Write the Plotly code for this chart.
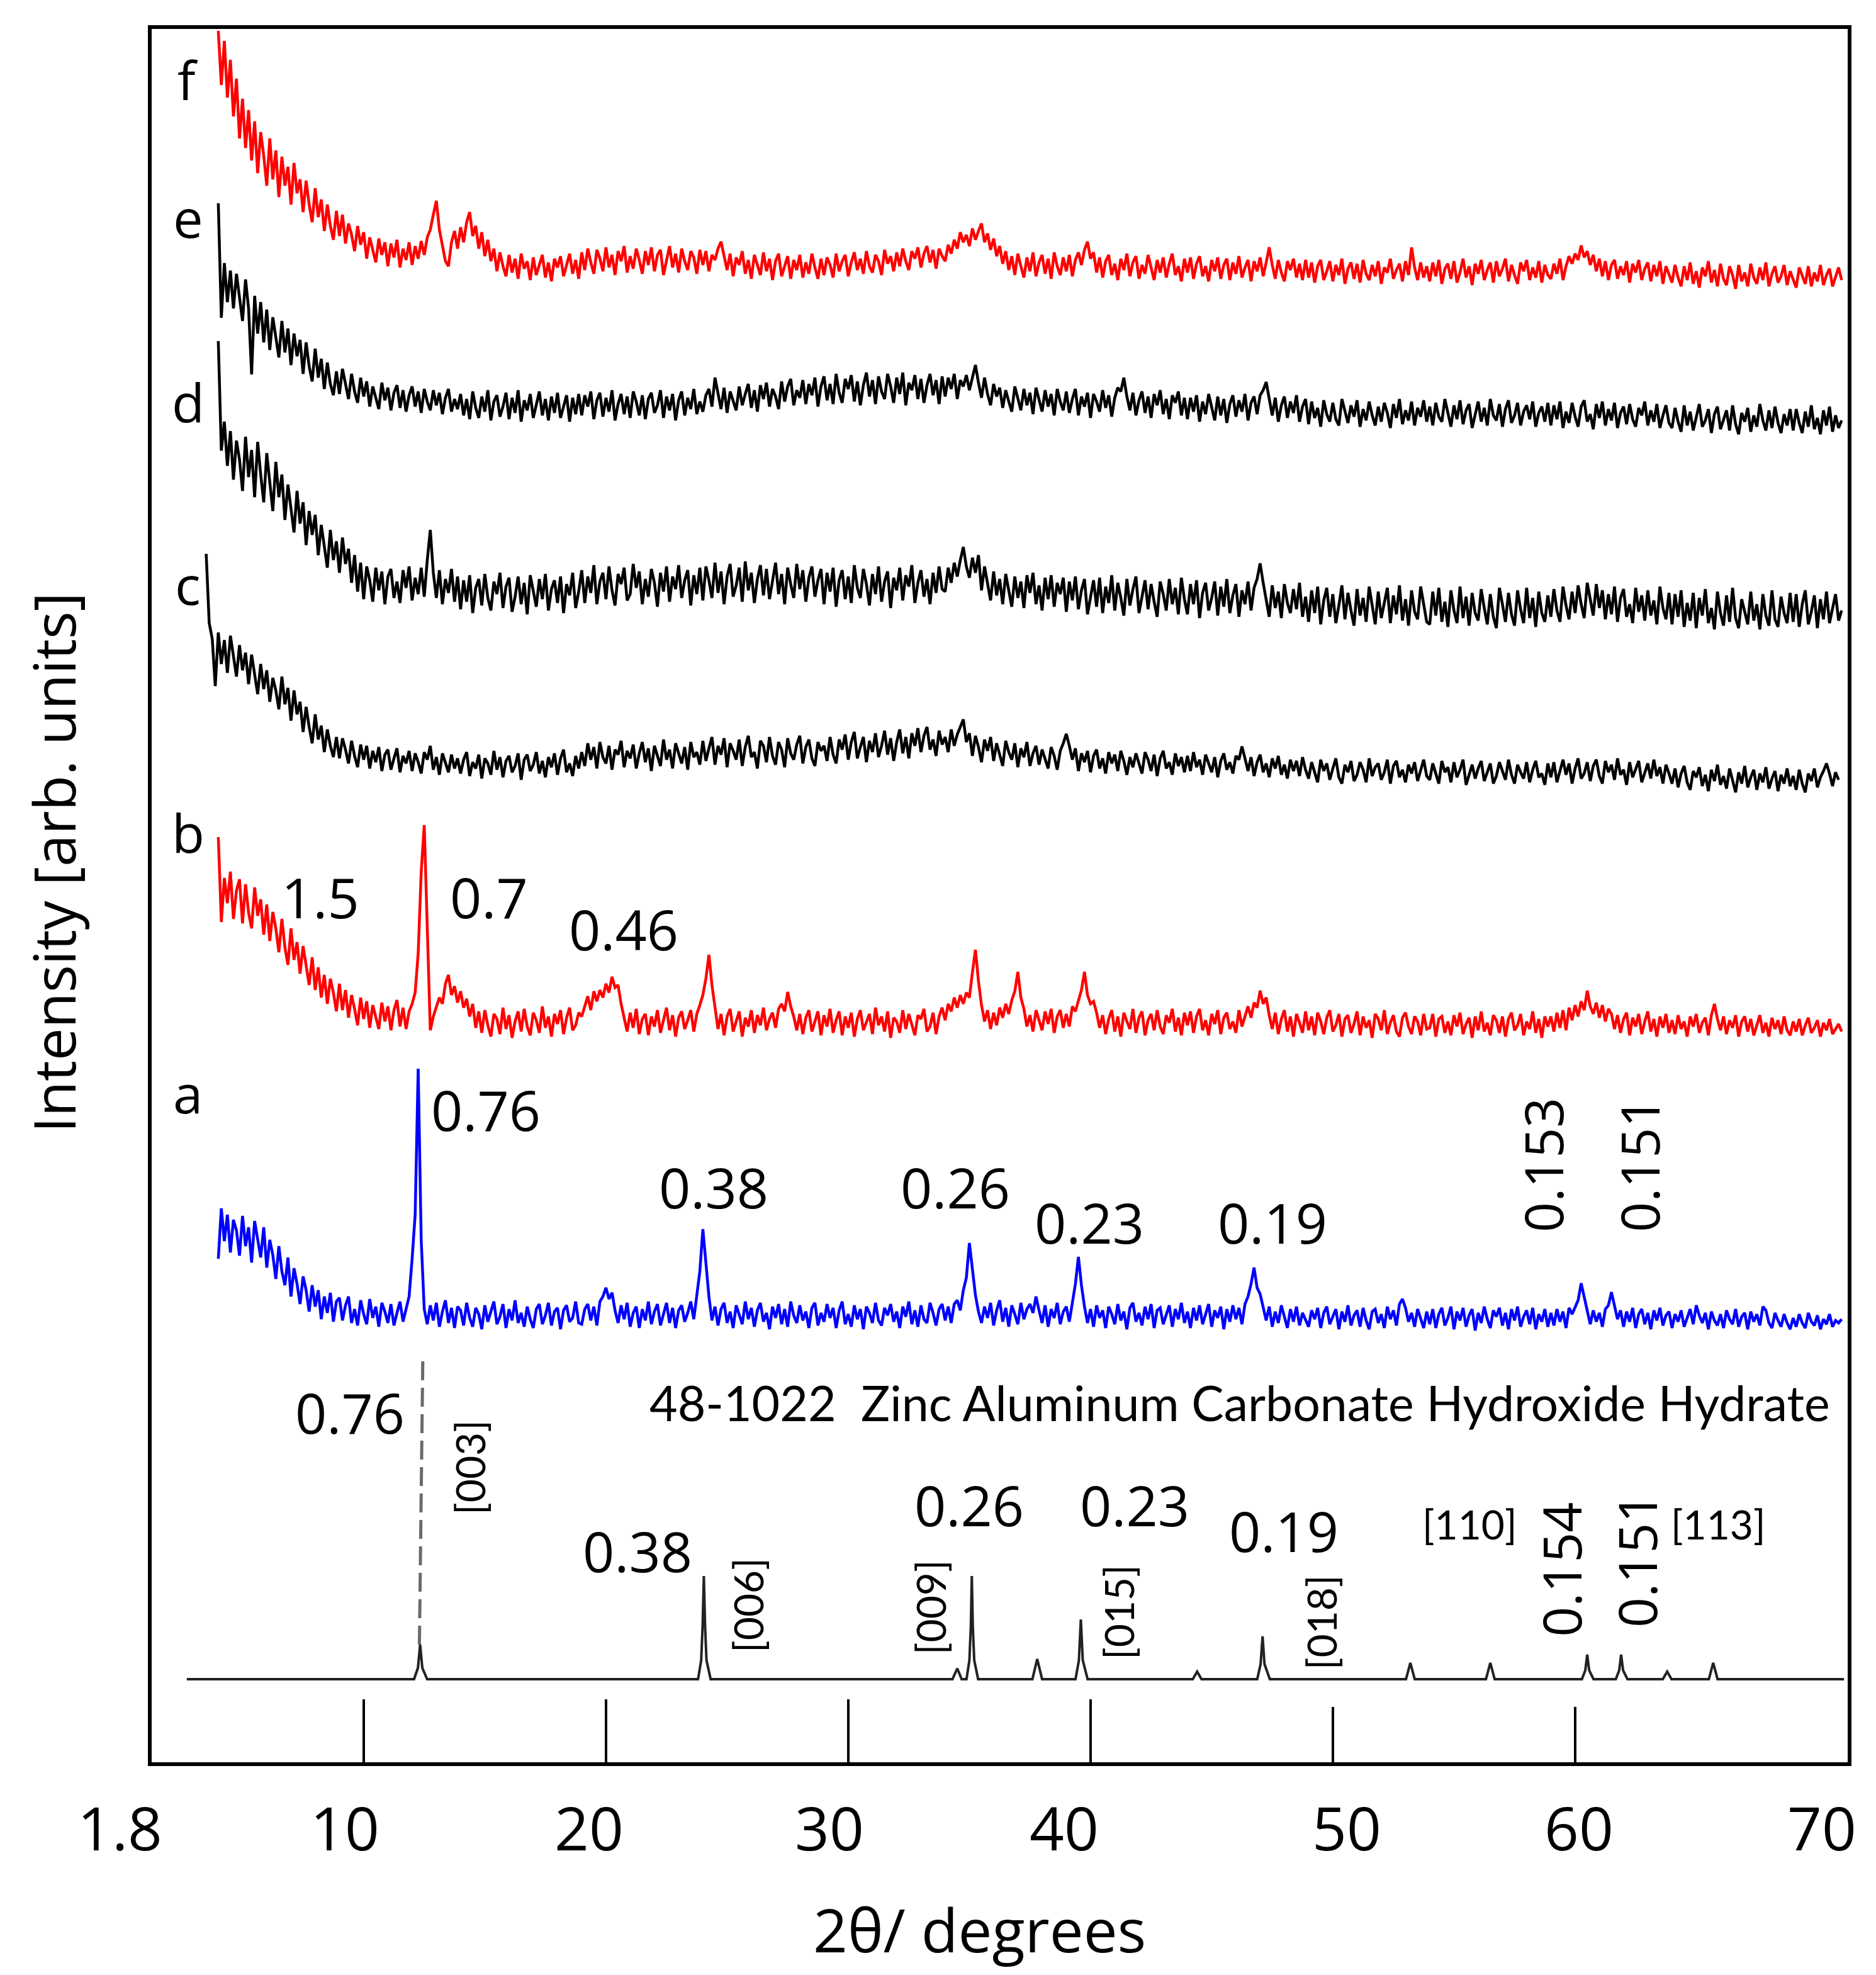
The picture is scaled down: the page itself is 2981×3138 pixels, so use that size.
import plotly.graph_objects as go

# ---------------- data ----------------
# Each sample series is stored as rows of 5 degrees (40 samples, 0.125 deg apart).
STEP = 0.125
ROW_SPAN = 5.0

a_start = 4.0
a_rows = [
    [90,170,118,160,100,152,135,95, 158,110,140,84,150,118,92,140, 76,120,96,58,110,70,48,92, 30,75,50,18,62,40,6,48, 14,40,-6,30,4,36,-10,22],
    [28,-8,16,30,-12,10,-16,24, 2,-14,26,-4,14,-18,20,6, -12,18,-16,4,22,-10,8,30, 90,160,392,120,10,-14,16,-8, 20,-18,6,24,-12,12,-20,14],
    [8,-16,20,-4,-18,12,2,-22, 16,-10,6,22,-14,-2,18,-20, 10,-8,24,-12,4,-18,14,-6, -20,10,18,-14,0,20,-16,6, 12,-22,8,16,-10,-4,22,-12],
    [-14,10,18,-8,14,-16,22,30, 44,26,36,8,-12,16,-6,20, -18,4,14,-20,10,-8,22,-14, 6,18,-16,2,20,-12,12,-20, 8,16,-10,4,22,-6,30,70],
    [137,80,30,-8,14,-16,10,20, -12,6,-20,16,2,-14,22,-6, 12,-18,8,20,-10,4,-22,14, -4,18,-14,10,-18,22,0,-12, 16,-8,6,-20,12,20,-16,4],
    [-10,18,-4,12,-20,8,22,-14, 2,-18,16,-6,10,-22,14,4, -12,20,-8,-16,12,0,18,-10, 6,-20,14,-2,22,-14,8,-18, 16,-6,-12,20,4,-16,10,18],
    [-8,14,-12,18,24,8,40,60, 115,70,32,6,-12,14,-4,20, -16,8,24,-10,12,-18,16,2, -14,20,-6,10,18,4,30,8, -12,16,-18,10,-4,20,-14,6],
    [14,-10,24,50,93,48,14,-12, 10,-18,16,-4,8,-20,14,2, -14,18,-8,6,-22,12,20,-10, 4,-16,14,-6,18,-20,8,12, -14,2,16,-18,10,-6,20,-12],
    [6,-20,12,-8,16,-14,2,18, -18,8,-4,14,-22,10,-10,16, -6,12,-14,18,30,50,76,44, 34,12,-8,14,-18,6,-12,16, -4,-20,10,-10,14,-16,4,-8],
    [-18,8,-6,12,-20,4,14,-14, -2,10,-22,6,-10,16,-16,0, 8,-18,12,-8,-22,6,10,-12, 2,-20,14,-6,8,-16,18,26, 12,-10,4,-18,10,-6,-20,6],
    [-14,10,-20,2,12,-16,-4,14, -22,6,-8,12,-18,0,10,-24, 4,-12,14,-6,-20,8,-2,12, -16,4,-22,10,-8,14,-18,-2, 8,-14,12,-22,2,-10,10,-18],
    [4,-16,10,-10,6,-20,12,2, 14,24,51,30,6,-14,8,-10, 4,-18,10,16,37,14,-6,8, -18,6,-10,12,-20,2,10,-14, 4,-22,8,-8,12,-16,0,6],
    [-20,2,-10,8,-18,-4,10,-14, 16,0,-12,4,-22,6,-8,-16, 2,-20,8,-6,-14,10,-18,-2, 4,-22,6,-10,2,-16,14,8, -12,-20,4,-8,-18,2,-12,-22],
    [-4,-18,2,-12,-20,4,-10,-16,0,-22,-6,-14,2,-18,-8,-12,-6],
]

b_start = 4.0
b_rows = [
    [295,160,230,190,240,165,210,228, 158,220,175,150,215,170,196,140, 188,130,176,150,112,165,120,92, 150,100,128,78,122,90,60,104, 52,88,40,76,30,70,48,18],
    [62,20,52,8,44,22,-4,40, 6,34,-8,28,10,-10,32,2, 26,-12,20,36,-6,24,-10,18, 30,48,110,240,314,150,-12,10, 26,40,30,62,76,44,58,32],
    [50,24,38,10,30,-8,18,-16, 20,-4,-22,14,6,-18,24,-10, 12,-24,2,18,-14,22,-6,-20, 16,4,-16,26,-8,10,-22,14, -2,20,-18,8,24,-12,-4,16],
    [10,26,42,20,50,34,52,40, 62,48,73,56,60,30,8,-14, 16,-8,22,-18,6,14,-20,10, -6,20,-16,2,24,-12,12,-22, 8,18,-10,4,20,-14,14,28],
    [44,70,108,60,22,-10,14,-20, 10,22,-14,4,18,-22,8,-6, 20,-16,12,-4,24,-12,6,16, -8,22,30,18,49,26,10,-12, 14,-18,8,20,-14,2,18,-20],
    [12,-6,22,-16,4,18,-20,10, -8,16,-22,6,20,-12,0,14, -18,24,-4,10,-14,18,-24,8, 2,-16,20,-10,14,-2,-20,12, 6,22,-14,-6,16,-18,10,24],
    [4,30,18,40,24,44,30,48, 40,80,116,66,28,2,20,-10, 16,-4,24,8,30,14,36,50, 81,40,22,-6,12,-14,20,4, -12,18,-2,22,-16,10,20,-8],
    [14,-6,26,18,36,52,81,44, 30,34,16,-8,12,-18,6,20, -14,10,-22,16,2,-10,22,-16, 8,18,-20,4,14,-12,20,-6, -18,12,0,22,-14,8,-20,16],
    [-4,18,-16,10,22,-12,4,-20, 14,-2,20,-18,8,16,-10,2, -16,20,-6,12,26,8,32,24, 51,30,40,12,-10,16,-18,6, 20,-14,10,-22,14,0,-16,18],
    [-12,10,-20,16,2,-18,8,20, -14,-4,14,-22,6,12,-16,-2, 18,-20,10,-8,4,-24,14,6, -12,20,-18,0,12,-14,-22,8, 16,-6,-18,10,2,-20,14,-10],
    [-8,14,-22,6,10,-16,2,-20, 12,-6,16,-18,-2,8,-24,10, -12,18,-14,0,-20,12,4,-16, 10,-22,6,16,-12,-4,14,-20, 2,-10,18,-16,6,-24,10,-6],
    [10,-14,16,-8,20,-12,24,4, 28,10,34,20,51,26,14,32, 8,28,2,22,14,-10,12,-16, 6,16,-20,8,-6,14,-18,2, 18,-14,6,-22,10,-8,14,-16],
    [4,-18,12,-10,2,-22,10,-6, 14,-16,0,8,-20,12,30,6, -12,10,-18,4,-8,12,-22,2, 10,-14,6,-20,-4,12,-16,0, -22,8,-10,4,-18,10,-12,-20],
    [2,-14,6,-20,-4,8,-16,-8,4,-22,0,-12,6,-18,-10,-2,-14],
]

c_lead_start = 3.5
c_lead = [335, 225, 200, 125]
c_start = 4.0
c_rows = [
    [210,160,198,146,205,172,140,190, 150,178,128,175,140,112,160,120, 150,100,138,118,88,140,96,122, 70,118,80,100,52,92,60,34, 80,40,62,20,56,30,12,44],
    [10,42,24,2,38,14,-4,32, 8,30,-6,22,4,28,-10,16, 24,-8,10,26,-12,14,2,22, -10,18,4,-14,20,8,30,-8, 12,-16,18,2,-12,16,-6,10],
    [-14,8,20,-18,4,-6,16,-22, 10,2,-16,22,-8,12,-20,6, 14,-12,-2,18,-24,8,16,-10, 0,20,-14,6,-20,12,-4,18, -16,10,24,-12,2,-18,14,-6],
    [20,-2,34,8,28,-6,36,12, 2,30,-8,24,16,38,-4,22, 10,32,-6,18,36,4,26,-10, 30,14,-2,40,8,24,-6,34, 18,2,28,-8,36,12,20,0],
    [38,6,26,44,0,30,16,42, -4,34,22,8,40,-2,28,46, 12,20,-6,38,30,4,44,14, 0,36,24,-4,42,18,8,32, 46,2,28,40,10,-2,36,22],
    [30,6,44,16,2,40,24,48, 8,36,52,10,28,44,4,38, 20,50,12,30,54,16,42,6, 36,56,18,44,10,50,30,58, 20,46,60,24,40,14,54,32],
    [44,20,56,30,48,60,72,36, 50,14,46,28,4,40,22,44, 6,34,16,-2,38,20,8,34, -4,26,12,36,-2,18,30,0, 24,8,-6,28,14,-8,22,34],
    [49,30,8,26,-10,18,4,22, -12,14,24,-6,10,-14,20,2, 16,-10,22,6,-16,12,-4,18, 0,-14,20,8,-10,16,-18,10, 22,-6,4,-16,18,-2,12,-12],
    [14,-10,20,-4,8,-16,16,2, -12,12,-20,6,18,-8,4,-14, 14,8,29,10,-10,12,-18,4, 16,-12,2,-20,10,-6,14,-16, 0,-22,8,-10,6,-18,12,-8],
    [-22,4,-14,-28,8,-10,2,-24, -6,10,-20,-30,0,-12,6,-26, -16,4,-8,-28,10,-18,-4,2, -24,-12,8,-30,-2,6,-20,-8, -28,0,-14,4,-26,-10,8,-18],
    [-24,2,-16,-30,6,-12,-4,-28, 4,-20,-8,8,-32,-14,0,-22, -6,6,-26,-12,2,-30,-18,4, -10,-24,8,-16,-30,0,-12,-22, 4,-28,-8,6,-20,-14,-32,2],
    [-20,4,-28,-10,8,-16,2,-30, -6,10,-22,-14,4,-26,-2,8, -18,-30,6,-12,0,-24,10,-16, -8,-32,4,-20,-6,6,-28,-12, 2,-22,8,-18,-4,-30,0,-14],
    [-30,-6,-36,-14,-2,-28,-40,-10, -20,-4,-34,-16,-42,-8,-26,0, -32,-18,-38,-6,-24,-44,-12,-30, -2,-36,-20,-8,-40,-14,-28,-4, -38,-22,-10,-42,-16,-30,-6,-34],
    [-18,-40,-8,-30,-44,-14,-26,-6, -36,-20,-10,2,-14,-34,-12,-24],
]

d_start = 4.0
d_rows = [
    [388,214,260,190,245,168,230,200, 150,236,172,215,140,228,176,132, 210,160,118,196,140,176,104,160, 120,84,150,98,132,64,118,80, 112,48,96,64,28,88,40,70],
    [20,76,34,58,4,48,-10,36, -22,30,8,-26,28,-8,22,-30, 14,26,-20,6,-28,24,-4,30, -24,12,-14,28,-18,40,88,20, -20,24,-30,10,-12,26,-26,14],
    [-38,8,-26,16,-44,-4,10,-32, 18,-20,-40,6,-14,20,-36,-2, 12,-42,-18,14,-30,4,-46,16, -8,-34,10,-22,18,-40,-6,8, -28,14,-44,2,-16,20,-36,-10],
    [24,-28,14,-12,32,-30,6,20, -22,30,-8,-32,18,2,28,-24, -14,34,-4,22,-30,10,-18,26, 4,-34,20,-10,30,-26,14,-6, 32,-20,8,24,-32,16,-14,28],
    [-24,30,8,-20,36,-12,22,-30, 14,34,-18,0,28,-26,38,-8, 20,-28,10,32,-16,26,-22,4, 36,-14,18,-30,28,2,-20,34, -6,24,-26,12,30,-18,8,26],
    [-30,20,-10,28,-34,8,24,-22, 14,-28,32,-4,-20,26,2,-32, 18,-14,30,-26,6,22,-36,12, -8,28,-24,16,-2,32,-28,4, 24,-18,10,-30,20,-12,30,-6],
    [-10,28,4,36,14,40,61,30, 12,44,20,48,-8,30,2,-24, 22,-16,10,-30,18,-8,-34,14, -20,6,-36,16,-12,20,-30,0, -40,12,-22,16,-34,4,-14,12],
    [-42,6,-24,14,-38,-8,10,-46, -16,8,-34,12,-44,-2,-28,16, -40,4,-20,-48,10,-32,-6,14, -44,-18,8,-38,2,-26,-50,6, -14,-40,10,-30,-4,-46,12,-22],
    [-46,2,-30,8,-52,-12,4,-40, -20,6,-48,-2,-34,10,-44,-16, 2,-50,-8,-30,6,-40,-4,10, 35,4,-26,-50,0,-36,-10,-52, 2,-28,-44,-6,-38,4,-50,-18],
    [-58,-8,-44,-2,-62,-24,-4,-50, -14,-60,-32,0,-54,-12,-40,-64, -6,-48,-20,-58,-2,-36,-62,-10, -52,-28,-4,-60,-16,-46,0,-56, -22,-64,-8,-42,-54,-2,-30,-58],
    [-62,-10,-48,-4,-58,-26,-66,-8, -40,-60,-2,-52,-18,-64,-12,-44, -56,-6,-36,-62,-14,-50,-68,-4, -30,-58,-12,-46,-64,-8,-38,-60, -4,-52,-20,-66,-10,-44,-58,-16],
    [-50,-6,-40,-58,-2,-32,-54,-10, -44,0,-30,-52,4,-22,-48,2, -36,-8,-54,-14,-46,-2,-58,-20, -6,-50,-30,-60,-4,-42,-16,-56, -8,-48,-24,-62,-2,-36,-54,-12],
    [-62,-14,-50,-8,-66,-28,-56,-12, -68,-20,-48,-6,-60,-36,-70,-10, -44,-64,-16,-58,-4,-52,-68,-22, -40,-62,-10,-56,-30,-70,-14,-48, -64,-8,-54,-66,-18,-44,-60,-12],
    [-58,-14,-66,-30,-8,-62,-42,-16,-68,-22,-54,-10,-60,-36,-14,-56,-40],
]

e_start = 4.0
e_rows = [
    [317,135,222,160,210,150,205,170, 130,196,150,45,170,110,160,96, 148,84,136,104,72,130,80,118, 60,110,74,100,46,96,58,34, 86,40,70,22,64,30,12,50],
    [14,54,30,6,46,18,0,40, 10,34,-6,26,8,-10,32,4, 24,-12,16,28,-8,20,-14,12, 26,-6,18,-16,22,2,-12,20, -4,16,-18,8,22,-14,6,-10],
    [14,-20,6,-26,18,-8,-24,10, -14,20,-28,2,12,-22,-6,16, -26,8,-16,20,-30,4,-12,14, -24,-2,18,-20,6,-28,10,-16, 16,-24,-4,12,-30,8,-18,14],
    [-20,12,-6,18,-26,4,16,-22, 8,-14,20,-28,-2,14,-18,10, -24,18,2,-20,12,-26,6,16, -16,-4,20,-24,10,-12,14,-28, 4,18,-20,8,-10,22,-18,2],
    [-14,12,22,-6,40,14,-10,24, -16,18,4,-12,26,-4,14,30, -8,20,-14,28,6,32,-6,22, 10,-10,34,2,26,38,-4,20, 8,36,-2,30,12,40,-6,26],
    [42,4,30,-2,46,16,0,38, 22,44,2,34,-4,28,48,10, 36,-2,42,18,6,46,26,0, 40,14,48,-4,32,20,44,6, 38,0,28,46,12,36,-2,42],
    [10,40,22,46,6,36,26,44, 20,38,60,32,8,40,14,-4, 30,10,24,-8,20,2,-14,26, 6,-12,22,-4,16,-18,24,4, -14,20,-6,14,-20,22,2,-12],
    [18,-16,6,22,-20,10,-6,16, -24,14,2,-14,20,-8,12,-22, 8,24,18,40,10,-12,16,-20, 4,18,-16,10,-24,14,-4,20, -18,6,-26,12,0,18,-20,8],
    [-26,8,-14,12,-30,2,-18,14, -6,-28,10,-20,6,-32,-2,12, -22,4,-14,14,-28,0,10,-18, 12,20,33,6,-20,8,-30,-4, 10,-24,2,-16,12,-30,-6,6],
    [-34,2,-24,-8,-38,4,-18,-30, 0,-26,-36,6,-14,-32,-4,-22, 4,-38,-10,-28,2,-20,-36,-6, -30,0,-16,-40,-2,-24,6,-34, -12,-28,2,-36,-8,-22,4,-30],
    [-6,-36,0,-22,-30,6,-16,-38, -4,-26,4,-34,-12,-2,-40,-18, 2,-30,-8,-36,6,-20,-28,-2, -38,-10,4,-32,-20,0,-36,-14, -4,-26,2,-38,-16,-6,-30,0],
    [-36,-4,-26,2,-40,-14,-32,0, -22,-38,-6,4,-30,-18,-42,-2, -24,2,-36,-10,-28,0,-40,-16, -6,-34,-2,-26,-38,-8,-20,2, -36,-12,-30,-2,-40,-20,-4,-32],
    [-40,-8,-30,-46,-4,-36,-14,-44, -22,-2,-38,-28,-10,-48,-18,-6, -42,-26,-12,-44,-4,-34,-50,-16, -30,-8,-46,-20,-38,-2,-28,-44, -12,-40,-6,-32,-48,-18,-36,-10],
    [-44,-10,-32,-48,-14,-38,-4,-42,-24,-50,-12,-36,-6,-46,-20,-40,-28],
]

f_start = 4.0
f_rows = [
    [376,290,360,270,330,240,300,205, 268,190,250,170,232,150,215,178, 130,205,140,186,112,176,130,160, 100,166,118,140,88,138,100,72, 126,80,108,58,100,66,44,90],
    [50,84,38,70,52,26,66,36, 56,14,48,30,8,46,20,40, 2,38,16,44,0,30,12,40, 4,34,14,42,20,48,60,84, 106,60,36,10,2,40,58,30],
    [64,40,72,88,50,66,30,56, 18,44,10,30,-6,24,2,-14, 20,-8,14,-18,22,-2,10,-20, 16,-12,4,20,-16,8,-22,14, 0,18,-14,6,22,-10,12,-18],
    [24,-4,30,8,-10,28,14,-6, 32,0,20,-12,26,10,34,-8, 18,-2,30,12,-10,26,4,32, -6,20,28,-12,14,34,0,22, -8,30,10,-4,26,16,-10,28],
    [4,26,-6,20,12,30,41,18, -4,22,-14,16,4,26,-10,12, -18,20,2,-12,24,-6,14,-20, 10,22,-14,4,18,-18,12,-4, 20,-16,8,-10,22,0,-18,14],
    [-12,16,4,-16,22,-6,10,20, -14,8,24,-4,14,-10,26,2, -8,20,10,-12,28,6,18,-6, 24,2,30,10,-4,26,14,32, 0,22,34,8,28,-2,30,18],
    [10,36,22,44,30,56,40,52, 34,62,44,58,70,40,54,28, 46,18,34,6,26,-4,18,-12, 22,2,-16,16,-6,24,-14,8, 20,-10,14,-18,24,2,-12,16],
    [-6,20,-14,12,24,4,28,41, 14,24,-8,16,-16,10,20,-12, 6,-20,14,-4,22,-14,8,18, -18,4,-10,20,-2,-20,12,-8, 16,-16,6,22,-12,2,-22,14],
    [-8,16,-18,6,18,-14,2,-22, 12,-6,16,-18,4,14,-20,8, -10,18,-16,0,12,-22,10,-6, 16,-14,8,32,4,-18,12,-8, -22,10,-4,14,-16,6,-20,12],
    [-16,8,-24,2,12,-20,-6,10, -22,4,-12,14,-26,-2,8,-18, 6,-24,12,-10,-20,4,-14,10, -26,0,-8,14,-18,-4,6,-22, 10,-12,32,0,-20,8,-16,2],
    [-22,8,-14,12,-26,-2,6,-18, 10,-24,-8,14,-16,2,-28,6, -10,12,-20,-4,8,-24,10,-14, -2,14,-22,4,-12,-26,8,-6, 12,-20,0,-16,10,-24,4,-12],
    [-18,6,-10,14,-20,2,18,6, 22,12,35,16,26,4,20,-6, 14,-14,10,-20,4,12,-18,2, -12,10,-24,6,-8,12,-20,-2, 8,-22,4,-14,10,-26,2,-10],
    [-24,4,-16,-30,2,-20,8,-26, -6,-32,0,-14,10,-24,-4,-30, 6,-18,-28,2,-12,-34,4,-22, -8,-30,6,-16,-26,0,-20,8, -30,-10,2,-24,-14,4,-28,-6],
    [-20,-32,0,-14,-26,2,-30,-8,-22,4,-28,-12,-2,-30,-16,0,-20],
]

# reference pattern 48-1022 (peak profile)
ref_x = [2.70, 12.08, 12.24, 12.33, 12.42, 12.62,
         23.80, 23.93, 23.99, 24.04, 24.09, 24.15, 24.32,
         34.30, 34.50, 34.68,
         34.88, 35.00, 35.06, 35.10, 35.14, 35.20, 35.36,
         37.60, 37.80, 38.00,
         39.38, 39.52, 39.60, 39.68, 39.88,
         44.22, 44.40, 44.58,
         46.88, 47.02, 47.10, 47.18, 47.40,
         53.02, 53.20, 53.38,
         56.32, 56.50, 56.68,
         60.28, 60.42, 60.50, 60.58, 60.76,
         61.68, 61.82, 61.90, 61.98, 62.16,
         63.62, 63.80, 63.98,
         65.52, 65.70, 65.88,
         71.10]
ref_y = [0, 0, 18, 55, 18, 0,
         0, 30, 85, 164, 85, 30, 0,
         0, 17, 0,
         0, 30, 85, 164, 85, 30, 0,
         0, 32, 0,
         0, 30, 95, 30, 0,
         0, 12, 0,
         0, 24, 68, 24, 0,
         0, 26, 0,
         0, 26, 0,
         0, 14, 39, 14, 0,
         0, 14, 39, 14, 0,
         0, 12, 0,
         0, 26, 0,
         0]
ref003_stick_x = [12.30, 12.44]
ref003_stick_y = [55, 506]

x_tick_marks = [10, 20, 30, 40]
x_tick_marks_short = [50, 60]
x_tick_labels = ["1.8", "10", "20", "30", "40", "50", "60", "70"]
x_tick_label_paper = [-0.0186, 0.1139, 0.2579, 0.3996, 0.5379, 0.7046, 0.8416, 0.9847]

# ---------------- layout constants ----------------
offsets = {"ref": 132, "a": 710, "b": 1175, "c": 1585, "d": 1870, "e": 2160, "f": 2375}
RED, BLUE, BLACK = "#FF0000", "#0000FF", "#000000"
FONT = "Open Sans"
X_RANGE = [1.25, 71.25]
Y_RANGE = [0, 2754]
SAMPLE_LW = 4.5

fig = go.Figure()


def rows_to_xy(start, rows):
    xs, ys = [], []
    for k, row in enumerate(rows):
        r0 = start + ROW_SPAN * k
        for i, v in enumerate(row):
            xs.append(r0 + STEP * i)
            ys.append(v)
    return xs, ys


def add_series(xs, ys, off, color, name):
    fig.add_trace(go.Scatter(x=xs, y=[v + off for v in ys], mode="lines", name=name,
                             line=dict(color=color, width=SAMPLE_LW)))


fig.add_trace(go.Scatter(x=ref_x, y=[v + offsets["ref"] for v in ref_y], mode="lines",
                         name="48-1022", line=dict(color="#222222", width=4)))
fig.add_trace(go.Scatter(x=ref003_stick_x, y=[v + offsets["ref"] for v in ref003_stick_y],
                         mode="lines", line=dict(color="#6a6a6a", width=5, dash="30px,12px")))

xa, ya = rows_to_xy(a_start, a_rows)
add_series(xa, ya, offsets["a"], BLUE, "a")
xb, yb = rows_to_xy(b_start, b_rows)
add_series(xb, yb, offsets["b"], RED, "b")
xc0, yc0 = rows_to_xy(c_lead_start, [c_lead])
xc1, yc1 = rows_to_xy(c_start, c_rows)
add_series(xc0 + xc1, yc0 + yc1, offsets["c"], BLACK, "c")
xd, yd = rows_to_xy(d_start, d_rows)
add_series(xd, yd, offsets["d"], BLACK, "d")
xe, ye = rows_to_xy(e_start, e_rows)
add_series(xe, ye, offsets["e"], BLACK, "e")
xf, yf = rows_to_xy(f_start, f_rows)
add_series(xf, yf, offsets["f"], RED, "f")

anns = []


def ann(text, x, y, size, angle=0, xanchor="center", family=FONT, xref="x", yref="y"):
    anns.append(dict(text=text, x=x, y=y, xref=xref, yref=yref, showarrow=False,
                     textangle=angle, xanchor=xanchor, yanchor="middle",
                     font=dict(size=size, family=family, color="black")))


# trace letters
for t, yy in [("f", 2674), ("e", 2455), ("d", 2162), ("c", 1872), ("b", 1478), ("a", 1064)]:
    ann(t, 2.75, yy, 85)

NUM = 88
ROT = 84
# sample b labels
ann("1.5", 8.21, 1375, NUM)
ann("0.7", 15.17, 1375, NUM)
ann("0.46", 20.73, 1324, NUM)
# sample a labels
ann("0.76", 15.04, 1037, NUM)
ann("0.38", 24.44, 914, NUM)
ann("0.26", 34.42, 914, NUM)
ann("0.23", 39.95, 858, NUM)
ann("0.19", 47.51, 858, NUM)
ann("0.153", 58.65, 949, ROT, angle=-90)
ann("0.151", 62.62, 949, ROT, angle=-90)
# reference labels
ann("0.76", 9.43, 556, NUM)
ann("0.38", 21.3, 336, NUM)
ann("0.26", 34.99, 409, NUM)
ann("0.23", 41.82, 409, NUM)
ann("0.19", 47.97, 368, NUM)
ann("0.154", 59.4, 306, ROT, angle=-90)
ann("0.151", 62.52, 321, ROT, angle=-90)
BR = 64
ann("[003]", 14.36, 469, BR, angle=-90, family="Lato")
ann("[006]", 25.84, 250, BR, angle=-90, family="Lato")
ann("[009]", 33.38, 246, BR, angle=-90, family="Lato")
ann("[015]", 41.14, 239, BR, angle=-90, family="Lato")
ann("[018]", 49.51, 222, BR, angle=-90, family="Lato")
ann("[110]", 55.66, 379, BR, family="Lato")
ann("[113]", 65.92, 379, BR, family="Lato")
ann("48-1022  Zinc Aluminum Carbonate Hydroxide Hydrate", 21.74, 572, 77,
    xanchor="left", family="Lato")

# axis tick labels and titles (outside the plotting area -> paper coordinates)
for lab, xp in zip(x_tick_labels, x_tick_label_paper):
    ann(lab, xp, -0.0374, 96, xref="paper", yref="paper")
ann("2θ/ degrees", 0.4883, -0.0962, 96, xref="paper", yref="paper")
ann("Intensity [arb. units]", -0.0583, 0.5192, 92, angle=-90, xref="paper", yref="paper")

fig.update_layout(
    width=2981, height=3138,
    margin=dict(l=241, r=45, t=46, b=338, pad=0),
    plot_bgcolor="white", paper_bgcolor="white",
    showlegend=False,
    annotations=anns,
    xaxis=dict(range=X_RANGE, showline=True, linecolor="black", linewidth=6,
               mirror=True, showgrid=False, zeroline=False,
               tickmode="array", tickvals=x_tick_marks, ticks="inside", ticklen=100,
               tickwidth=4, tickcolor="black", showticklabels=False,
               minor=dict(tickmode="array", tickvals=x_tick_marks_short, ticks="inside",
                          ticklen=88, tickwidth=4, tickcolor="black")),
    yaxis=dict(range=Y_RANGE, showline=True, linecolor="black", linewidth=6,
               mirror=True, showgrid=False, zeroline=False, ticks="",
               showticklabels=False),
)

fig.write_html("out.html")
